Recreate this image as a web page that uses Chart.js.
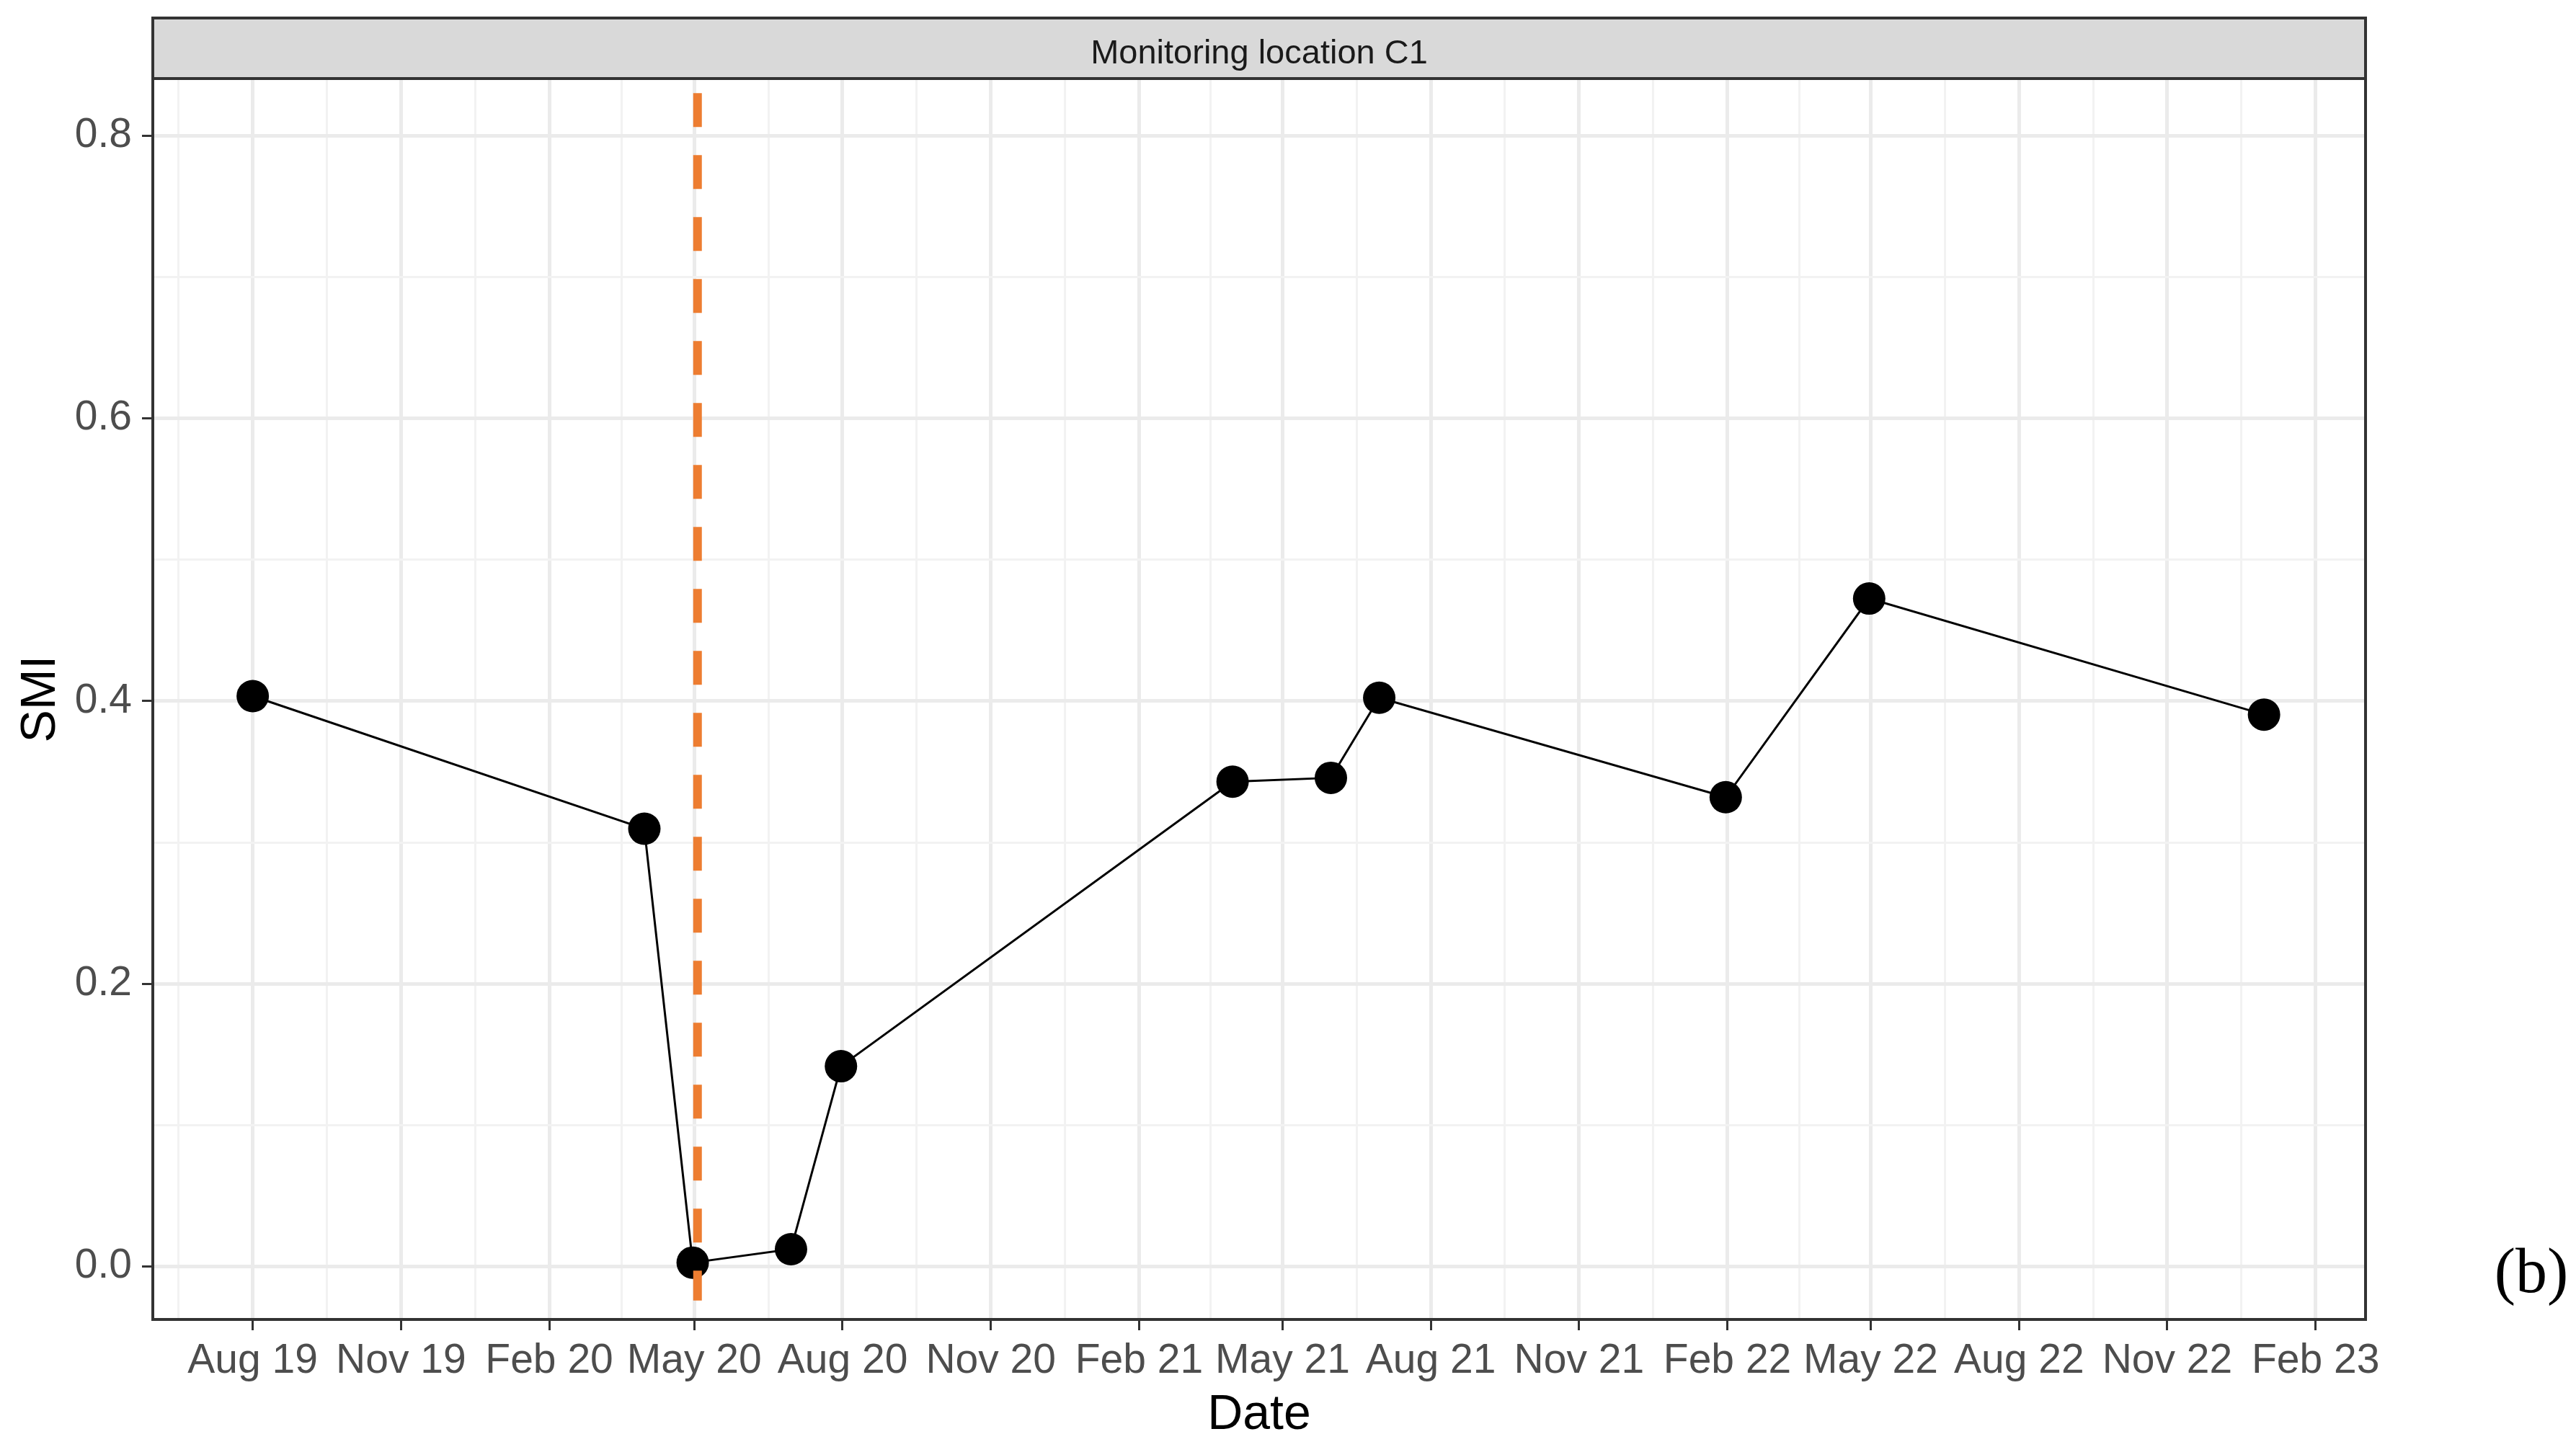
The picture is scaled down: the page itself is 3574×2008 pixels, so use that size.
<!DOCTYPE html>
<html>
<head>
<meta charset="utf-8">
<title>SMI - Monitoring location C1</title>
<script src="https://cdn.jsdelivr.net/npm/chart.js@4.4.1/dist/chart.umd.min.js"></script>
<style>
  html, body { margin: 0; padding: 0; background: #fff; }
  canvas { display: block; }
</style>
</head>
<body>
<canvas id="myChart" width="3574" height="2008"></canvas>
<script>
// sampling dates and SMI values
const dates = [
  "2019-08-01",
  "2020-03-31",
  "2020-04-30",
  "2020-06-30",
  "2020-07-31",
  "2021-03-31",
  "2021-05-31",
  "2021-06-30",
  "2022-01-31",
  "2022-04-30",
  "2022-12-31",
];
const smi = [0.4035, 0.3097, 0.0028, 0.0123, 0.1417, 0.343, 0.3457, 0.4023, 0.332, 0.4725, 0.3904];

// x axis breaks, one per quarter
const xTickDates = [
  "2019-08-01", "2019-11-01", "2020-02-01", "2020-05-01", "2020-08-01",
  "2020-11-01", "2021-02-01", "2021-05-01", "2021-08-01", "2021-11-01",
  "2022-02-01", "2022-05-01", "2022-08-01", "2022-11-01", "2023-02-01",
];
const xTickLabels = [
  "Aug 19", "Nov 19", "Feb 20", "May 20", "Aug 20",
  "Nov 20", "Feb 21", "May 21", "Aug 21", "Nov 21",
  "Feb 22", "May 22", "Aug 22", "Nov 22", "Feb 23",
];
const xRange = ["2019-05-31", "2023-03-04"];

const yTicks = [0, 0.2, 0.4, 0.6, 0.8];
const yRange = [-0.0374, 0.8403];

// dashed event line
const eventDate = "2020-05-03";
const eventSpan = [0.83, -0.024];

const panelTitle = "Monitoring location C1";
const panelTag = "(b)";

const FONT = "'Liberation Sans', Arial, sans-serif";

const toDay = (s) => Date.parse(s + "T00:00:00Z") / 86400000;

// majors plus ggplot style minor breaks halfway between them
function withMinor(values, min, max) {
  const out = [];
  const step = values[1] - values[0];
  const all = [values[0] - step / 2];
  values.forEach((v, i) => {
    out.push({ value: v, minor: false });
    if (i < values.length - 1) all.push((v + values[i + 1]) / 2);
  });
  all.push(values[values.length - 1] + (values[values.length - 1] - values[values.length - 2]) / 2);
  all.forEach((v) => {
    if (v >= min && v <= max) out.push({ value: v, minor: true });
  });
  return out.sort((a, b) => a.value - b.value);
}

const xMajor = xTickDates.map(toDay);
const xMin = toDay(xRange[0]);
const xMax = toDay(xRange[1]);
const xLabelOf = {};
xMajor.forEach((d, i) => (xLabelOf[d] = xTickLabels[i]));

const isMinor = (c) => c.tick && c.tick.minor;

const gridOpts = {
  color: (c) => (isMinor(c) ? "#f2f2f2" : "#ebebeb"),
  lineWidth: (c) => (isMinor(c) ? 3 : 5),
  tickColor: (c) => (isMinor(c) ? "rgba(0,0,0,0)" : "#333333"),
  tickWidth: 3,
  tickLength: 15,
  drawTicks: true,
};

const panelPlugin = {
  id: "panel",
  afterDraw(chart) {
    const { ctx, chartArea: a } = chart;
    const stripTop = 25;
    ctx.save();
    ctx.fillStyle = "#d9d9d9";
    ctx.fillRect(a.left, stripTop, a.right - a.left, a.top - stripTop);
    ctx.strokeStyle = "#333333";
    ctx.lineWidth = 4;
    ctx.strokeRect(a.left, stripTop, a.right - a.left, a.top - stripTop);
    ctx.strokeRect(a.left, a.top, a.right - a.left, a.bottom - a.top);

    ctx.fillStyle = "#1a1a1a";
    ctx.font = "47px " + FONT;
    ctx.textAlign = "center";
    ctx.textBaseline = "middle";
    ctx.fillText(panelTitle, (a.left + a.right) / 2, (stripTop + a.top) / 2 + 8);

    ctx.fillStyle = "#000000";
    ctx.font = "88px 'Liberation Serif', 'Times New Roman', serif";
    ctx.fillText(panelTag, 3512, 1770);
    ctx.restore();
  },
};

const data = {
  datasets: [
    {
      label: "Event",
      data: eventSpan.map((y) => ({ x: toDay(eventDate), y: y })),
      borderColor: "#ED7D31",
      borderWidth: 12,
      borderDash: [47, 39],
      borderCapStyle: "butt",
      pointRadius: 0,
      order: 0,
    },
    {
      label: "SMI",
      data: dates.map((d, i) => ({ x: toDay(d), y: smi[i] })),
      borderColor: "#000000",
      borderWidth: 3,
      backgroundColor: "#000000",
      pointBackgroundColor: "#000000",
      pointBorderWidth: 0,
      pointRadius: 22.5,
      tension: 0,
      order: 1,
    },
  ],
};

const config = {
  type: "line",
  data,
  options: {
    responsive: false,
    devicePixelRatio: 1,
    animation: false,
    layout: {
      padding: { top: 109, right: 292, bottom: 0, left: 0 },
    },
    plugins: {
      legend: { display: false },
      tooltip: { enabled: false },
    },
    scales: {
      x: {
        type: "linear",
        min: xMin,
        max: xMax,
        afterBuildTicks: (scale) => {
          scale.ticks = withMinor(xMajor, xMin, xMax);
        },
        afterFit: (scale) => {
          scale.height = 177;
        },
        grid: gridOpts,
        border: { display: false },
        ticks: {
          autoSkip: false,
          maxRotation: 0,
          minRotation: 0,
          padding: 9,
          color: "#4d4d4d",
          font: { family: FONT, size: 57 },
          callback: (value, index, ticks) => (ticks[index].minor ? "" : xLabelOf[value]),
        },
        title: {
          display: true,
          text: "Date",
          color: "#000000",
          font: { family: FONT, size: 68 },
          padding: { top: 0, bottom: 3 },
        },
      },
      y: {
        type: "linear",
        min: yRange[0],
        max: yRange[1],
        afterBuildTicks: (scale) => {
          scale.ticks = withMinor(yTicks, yRange[0], yRange[1]);
        },
        afterFit: (scale) => {
          scale.width = 212;
        },
        grid: gridOpts,
        border: { display: false },
        ticks: {
          autoSkip: false,
          padding: 14,
          color: "#4d4d4d",
          font: { family: FONT, size: 57 },
          callback: (value, index, ticks) => (ticks[index].minor ? "" : value.toFixed(1)),
        },
        title: {
          display: true,
          text: "SMI",
          color: "#000000",
          font: { family: FONT, size: 68 },
          padding: { top: 16, bottom: 0 },
        },
      },
    },
  },
  plugins: [panelPlugin],
};

const myChart = new Chart(document.getElementById("myChart"), config);
</script>
</body>
</html>
